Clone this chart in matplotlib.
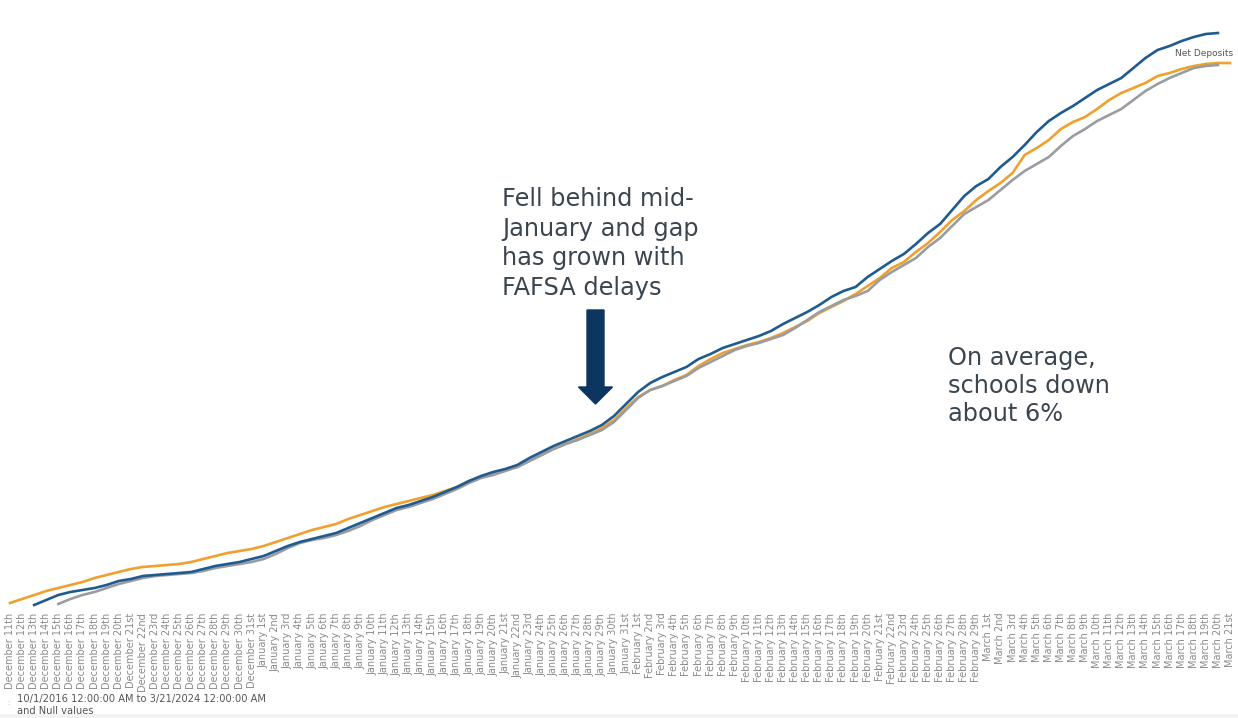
import matplotlib
matplotlib.use("Agg")
import matplotlib.pyplot as plt
from matplotlib.patches import FancyArrow, Rectangle

# day labels, Dec 11th .. Mar 21st
def ordinal(n):
    if 10 <= n % 100 <= 20:
        suf = "th"
    else:
        suf = {1: "st", 2: "nd", 3: "rd"}.get(n % 10, "th")
    return str(n) + suf

months = [("December", 11, 31), ("January", 1, 31), ("February", 1, 29), ("March", 1, 21)]
day_labels = []
for name, d0, d1 in months:
    for d in range(d0, d1 + 1):
        day_labels.append(name + " " + ordinal(d))

# cumulative net deposits (relative units)
blue_start = 2   # Dec 13th
blue_vals = [5, 10, 15, 18, 20, 22, 25, 29, 31, 34, 35, 36, 37, 38, 41, 44, 46, 48, 51, 54,
             59, 64, 68, 71, 74, 77, 82, 87, 92, 97, 102, 105, 109, 113, 118, 123, 129, 134, 138, 141,
             145, 152, 158, 164, 169, 174, 179, 185, 194, 206, 218, 227, 233, 238, 243, 251, 256, 262, 266, 270,
             274, 279, 286, 292, 298, 305, 313, 319, 323, 333, 341, 349, 356, 366, 377, 386, 400, 414, 424, 431,
             443, 453, 465, 478, 489, 497, 504, 512, 520, 526, 532, 542, 552, 560, 564, 569, 573, 576, 577]

orange_start = 0  # Dec 11th
orange_vals = [7, 11, 15, 19, 22, 25, 28, 32, 35, 38, 41, 43, 44, 45, 46, 48, 51, 54, 57, 59,
               61, 64, 68, 72, 76, 80, 83, 86, 91, 95, 99, 103, 106, 109, 112, 115, 119, 123, 129, 133,
               136, 140, 143, 149, 155, 161, 166, 171, 176, 182, 190, 202, 213, 220, 224, 230, 235, 244, 251, 257,
               261, 265, 268, 272, 277, 283, 289, 297, 303, 309, 316, 324, 332, 342, 348, 358, 367, 378, 390, 399,
               410, 419, 427, 437, 455, 462, 470, 481, 488, 493, 501, 510, 517, 522, 527, 534, 537, 541, 544, 546,
               547, 547]

gray_start = 4   # Dec 15th
gray_vals = [6, 11, 15, 18, 22, 26, 29, 32, 34, 35, 36, 37, 39, 42, 44, 46, 48, 51, 56, 62,
             67, 70, 72, 75, 79, 84, 90, 95, 100, 103, 107, 111, 116, 121, 127, 132, 135, 139, 143, 149,
             155, 161, 166, 170, 175, 180, 188, 200, 212, 220, 224, 229, 234, 242, 248, 254, 260, 264, 267, 271,
             275, 282, 290, 298, 304, 310, 314, 319, 330, 338, 345, 352, 363, 372, 384, 396, 403, 410, 420, 430,
             439, 446, 453, 464, 474, 481, 489, 495, 501, 510, 519, 526, 532, 537, 542, 544, 545]

W, H = 1238, 718
fig = plt.figure(figsize=(W / 100, H / 100), dpi=100)
ax = fig.add_axes([0, (H - 610) / H, 1, 590 / H])

def xs(start, vals):
    return list(range(start, start + len(vals)))

ax.plot(xs(orange_start, orange_vals), orange_vals, color="#f0a02c", lw=1.9, zorder=2)
ax.plot(xs(gray_start, gray_vals), gray_vals, color="#999da2", lw=1.9, zorder=3)
ax.plot(xs(blue_start, blue_vals), blue_vals, color="#1f5b8f", lw=1.9, zorder=4)

ax.set_xlim(-10 / 12.08, 101 + 8 / 12.08)
ax.set_ylim(0, 590)
ax.set_xticks(range(len(day_labels)))
ax.set_xticklabels(day_labels, rotation=90, fontsize=7.0, color="#8a8a8a")
ax.tick_params(axis="x", length=0, pad=2)
ax.set_yticks([])
for s in ax.spines.values():
    s.set_visible(False)

txt_color = "#3b4550"
fig.text(502 / W, 1 - 187 / H, "Fell behind mid-\nJanuary and gap\nhas grown with\nFAFSA delays",
         fontsize=17.3, color=txt_color, va="top", ha="left", linespacing=1.3)
fig.text(948 / W, 1 - 346 / H, "On average,\nschools down\nabout 6%",
         fontsize=17.3, color=txt_color, va="top", ha="left", linespacing=1.2)

arrow = FancyArrow(595.5 / W, 1 - 310 / H, 0, -(404 - 310) / H,
                   width=17 / W, head_width=34 / W, head_length=17 / H,
                   length_includes_head=True, color="#0c3560", transform=fig.transFigure)
fig.patches.append(arrow)

fig.text(1175 / W, 1 - 53 / H, "Net Deposits", fontsize=6.5, color="#555555", va="center", ha="left")

fig.text(17 / W, 1 - 705 / H, "10/1/2016 12:00:00 AM to 3/21/2024 12:00:00 AM\nand Null values",
         fontsize=7.1, color="#555555", va="center", ha="left", linespacing=1.35)
fig.text(7 / W, 1 - 703 / H, ":", fontsize=5, color="#aaaaaa", va="center", ha="left")

# faint band along the bottom edge
fig.patches.append(Rectangle((0, 0), 1, 4 / H, transform=fig.transFigure,
                             facecolor="#f3f3f3", edgecolor="none"))

fig.savefig("out.png", dpi=100)
